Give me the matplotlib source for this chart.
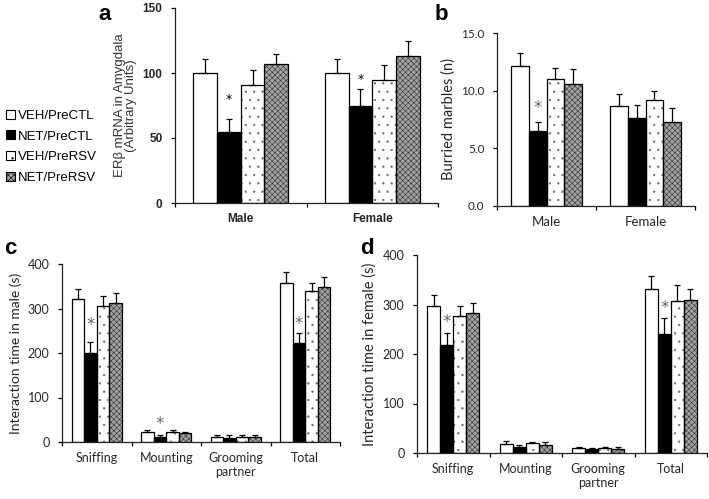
import matplotlib
matplotlib.use("Agg")
import matplotlib.pyplot as plt
from matplotlib.patches import Patch
from matplotlib.ticker import FormatStrFormatter
import numpy as np

# treatment groups (legend order)
GROUPS = ["VEH/PreCTL", "NET/PreCTL", "VEH/PreRSV", "NET/PreRSV"]

# panel a — ERb mRNA in amygdala
a_cats = ["Male", "Female"]
a_mean = [[100, 100], [55, 75], [91, 95], [107, 113]]
a_err = [[11, 11], [10, 13], [11, 11], [8, 12]]
a_stars = [(0, 1, 80), (1, 1, 95)]

# panel b — buried marbles
b_cats = ["Male", "Female"]
b_mean = [[12.1, 8.7], [6.5, 7.6], [11.0, 9.2], [10.55, 7.26]]
b_err = [[1.2, 1.0], [0.8, 1.2], [1.0, 0.8], [1.35, 1.2]]
b_stars = [(0, 1, 8.5)]

# panel c — interaction time, male
cd_cats = ["Sniffing", "Mounting", "Grooming\npartner", "Total"]
c_mean = [[322, 22, 12, 357], [199, 12, 10, 222], [306, 22, 12, 340], [313, 20, 12, 348]]
c_err = [[22, 4, 3, 24], [25, 3, 5, 24], [22, 6, 3, 17], [21, 3, 3, 22]]
c_stars = [(0, 1, 262), (1, 1, 40), (3, 1, 265)]

# panel d — interaction time, female
d_mean = [[297, 19, 10, 331], [218, 12, 9, 241], [276, 20, 10, 308], [283, 17, 9, 310]]
d_err = [[23, 6, 3, 26], [25, 4, 1, 32], [21, 3, 2, 31], [21, 5, 3, 22]]
d_stars = [(0, 1, 265), (3, 1, 293)]

BAR_W = 0.18
# (face, hatch, hatch colour)
STYLES = [
    ("white", "", "black"),
    ("black", "", "black"),
    ("white", "..", "#6a6a6a"),
    ("#a3a3a3", "xxxxxx", "#303030"),
]

plt.rcParams["hatch.linewidth"] = 0.4
TXT = "#262626"


def draw_bars(ax, xs, heights, style):
    face, hatch, hcol = style
    # hatch layer in its own colour, then a black outline on top
    ax.bar(xs, heights, BAR_W, facecolor=face, edgecolor=hcol, hatch=hatch,
           linewidth=0, zorder=2)
    ax.bar(xs, heights, BAR_W, fill=False, edgecolor="black", linewidth=0.9, zorder=2.5)


def draw_panel(ax, cats, means, errs, stars, ylim, yticks, fmt, ylabel, font,
               tsize, xsize, lsize, star_color, star_size, weight="normal"):
    n = len(cats)
    x = np.arange(n)
    for i, (m, e) in enumerate(zip(means, errs)):
        xs = x + (i - 1.5) * BAR_W
        draw_bars(ax, xs, m, STYLES[i])
        ax.errorbar(xs, m, yerr=[np.zeros(n), e], fmt="none", ecolor="black",
                    elinewidth=0.9, capsize=2.5, capthick=0.9, zorder=3)
    for ci, gi, y in stars:
        ax.text(ci + (gi - 1.5) * BAR_W, y, "*", ha="center", va="center",
                fontsize=star_size, color=star_color, family="DejaVu Sans", zorder=4)

    ax.set_xlim(-0.5, n - 0.5)
    ax.set_ylim(*ylim)
    ax.set_yticks(yticks)
    ax.yaxis.set_major_formatter(FormatStrFormatter(fmt))
    ax.set_xticks(np.arange(-0.5, n, 1.0))
    ax.set_xticklabels([])
    ax.set_xticks(x, minor=True)
    ax.set_xticklabels(cats, minor=True, family=font, fontsize=xsize, color=TXT,
                       fontweight=weight)
    ax.tick_params(axis="x", which="major", direction="out", length=3, width=0.9)
    ax.tick_params(axis="x", which="minor", length=0, pad=7)
    ax.tick_params(axis="y", direction="out", length=3, width=0.9, labelsize=tsize,
                   labelcolor=TXT, pad=6)
    for lab in ax.get_yticklabels():
        lab.set_family(font)
        lab.set_fontweight(weight)
    ax.set_ylabel(ylabel, family=font, fontsize=lsize, color=TXT)
    for side in ["top", "right"]:
        ax.spines[side].set_visible(False)
    for side in ["left", "bottom"]:
        ax.spines[side].set_linewidth(0.9)
        ax.spines[side].set_color("#222222")


W, H = 709, 499
fig = plt.figure(figsize=(W / 100, H / 100), dpi=100)


def add_axes(left, top, right, bottom):
    return fig.add_axes([left / W, 1 - bottom / H, (right - left) / W, (bottom - top) / H])


ax_a = add_axes(175, 8, 438, 203)
draw_panel(ax_a, a_cats, a_mean, a_err, a_stars, (0, 150), [0, 50, 100, 150], "%d",
           "ERβ mRNA in Amygdala\n(Arbitrary Units)", "Liberation Sans", 8.5, 8.5, 9.5,
           "black", 9, weight="bold")
ax_a.yaxis.label.set_linespacing(0.95)
ax_a.yaxis.label.set_color("#333333")

ax_b = add_axes(497, 33, 695, 206)
draw_panel(ax_b, b_cats, b_mean, b_err, b_stars, (0, 15), [0, 5, 10, 15], "%.1f",
           "Burried marbles (n)", "Lato", 8.5, 9.5, 10.5, "#666666", 12)

ax_c = add_axes(62, 264, 340, 442)
draw_panel(ax_c, cd_cats, c_mean, c_err, c_stars, (0, 400), [0, 100, 200, 300, 400], "%d",
           "Interaction time in male (s)", "Lato", 9, 9, 10, "#666666", 12)

ax_d = add_axes(417, 255, 707, 453)
draw_panel(ax_d, cd_cats, d_mean, d_err, d_stars, (0, 400), [0, 100, 200, 300, 400], "%d",
           "Interaction time in female (s)", "Lato", 9, 9, 10.5, "#666666", 12)

# panel letters
for letter, (px, py) in zip("abcd", [(105, 14), (441, 15), (10, 248), (367, 249)]):
    fig.text(px / W, 1 - py / H, letter, ha="center", va="center", fontsize=16,
             fontweight="bold", family="Liberation Sans")

handles = [Patch(facecolor=f, edgecolor="black", hatch=h, linewidth=0.8)
           for f, h, _ in STYLES]
fig.legend(handles, GROUPS, loc="upper left", bbox_to_anchor=(-0.008, 1 - 98 / H),
           frameon=False, handlelength=0.65, handleheight=0.65, handletextpad=0.25,
           labelspacing=0.65, prop={"family": "Liberation Sans", "size": 9.5})

fig.savefig("out.png", dpi=100)
